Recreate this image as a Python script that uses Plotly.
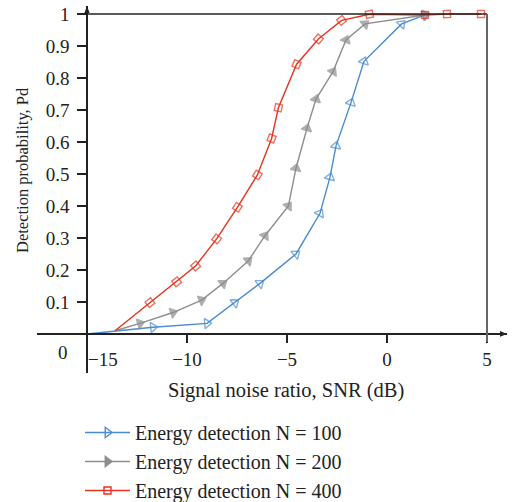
import plotly.graph_objects as go

W, H = 514, 502

# SNR (dB) / detection probability
snr_100 = [-15, -11.7, -9.0, -7.6, -6.35, -4.55, -3.35, -2.85, -2.55, -1.8, -1.15, 0.73, 1.9]
pd_100 = [0, 0.021, 0.033, 0.098, 0.158, 0.25, 0.377, 0.49, 0.588, 0.723, 0.852, 0.969, 0.997]

snr_200 = [-13.6, -12.35, -10.7, -9.27, -8.2, -6.93, -6.1, -4.93, -4.55, -4.0, -3.55, -2.7, -2.05, -1.1, 1.9]
pd_200 = [0.01, 0.033, 0.067, 0.106, 0.158, 0.229, 0.307, 0.40, 0.518, 0.643, 0.734, 0.82, 0.919, 0.969, 0.997]

snr_400 = [-13.6, -11.85, -10.52, -9.57, -8.52, -7.48, -6.48, -5.77, -5.43, -4.52, -3.43, -2.27, -0.88, 1.9, 3.0, 4.7]
pd_400 = [0.01, 0.098, 0.163, 0.2125, 0.297, 0.396, 0.497, 0.611, 0.707, 0.843, 0.922, 0.98, 0.999, 0.997, 1.0, 1.0]

series_names = ["Energy detection N = 100", "Energy detection N = 200", "Energy detection N = 400"]
x_ticks = [-10, -5, 0, 5]
y_ticks = [0.1, 0.2, 0.3, 0.4, 0.5, 0.6, 0.7, 0.8, 0.9, 1.0]
y_ticktext = ["0.1", "0.2", "0.3", "0.4", "0.5", "0.6", "0.7", "0.8", "0.9", "1"]

FONT = "Liberation Serif"
BLUE = "#4a8bd0"
GRAY = "#8e8e8e"
RED = "#e8321f"
AXIS = "#222222"
TEXT = "#222222"


def px(x):
    return x / W


def py(y):
    return 1 - y / H


def sizes(n, s):
    # first point is the curve origin, drawn without a marker
    return [0] + [s] * (n - 1)


def label(text, x, y, size, **kw):
    return dict(text=text, xref="paper", yref="paper", x=px(x), y=py(y),
                xanchor="center", yanchor="middle", showarrow=False,
                font=dict(family=FONT, size=size, color=TEXT), **kw)


styles = [
    (snr_100, pd_100, BLUE, "triangle-up-open", "triangle-right-open", 9),
    (snr_200, pd_200, GRAY, "triangle-up", "triangle-right", 9),
    (snr_400, pd_400, RED, "square-open", "square-open", 7),
]

fig = go.Figure()
for (xs, ys, color, sym, leg_sym, size), name in zip(styles, series_names):
    fig.add_trace(go.Scatter(
        x=xs, y=ys, mode="lines+markers", showlegend=False,
        line=dict(color=color, width=1.4),
        marker=dict(symbol=sym, size=sizes(len(xs), size), angleref="previous",
                    line=dict(color=color, width=1.4), color=color),
    ))
for (xs, ys, color, sym, leg_sym, size), name in zip(styles, series_names):
    fig.add_trace(go.Scatter(
        x=[None], y=[None], mode="lines+markers", name=name,
        line=dict(color=color, width=1.4),
        marker=dict(symbol=leg_sym, size=size, color=color, line=dict(color=color, width=1.4)),
    ))

fig.update_layout(
    width=W, height=H,
    margin=dict(l=0, r=0, t=0, b=0, autoexpand=False),
    paper_bgcolor="white", plot_bgcolor="white",
    font=dict(family=FONT, size=19, color=TEXT),
    xaxis=dict(
        range=[-17.5, 6.0], domain=[px(37), px(507)],
        anchor="free", position=py(334), automargin=False,
        showgrid=False, zeroline=False,
        showline=True, linecolor=AXIS, linewidth=1.5,
        tickvals=x_ticks, ticks="outside", ticklen=8, tickcolor=AXIS, tickwidth=1.5,
        ticklabelstandoff=0, tickfont=dict(family=FONT, size=19, color=TEXT),
    ),
    yaxis=dict(
        range=[-0.122, 1.025], domain=[py(373), py(6)],
        anchor="free", position=px(87), automargin=False,
        showgrid=False, zeroline=False,
        showline=True, linecolor=AXIS, linewidth=1.5,
        tickvals=y_ticks, ticktext=y_ticktext,
        ticks="outside", ticklen=9, tickcolor=AXIS, tickwidth=1.5,
        ticklabelstandoff=4, tickfont=dict(family=FONT, size=19, color=TEXT),
    ),
    legend=dict(
        x=px(80), y=py(413), xanchor="left", yanchor="top",
        bgcolor="rgba(0,0,0,0)", font=dict(family=FONT, size=20, color=TEXT),
        tracegroupgap=0, itemwidth=45,
    ),
    shapes=[
        dict(type="line", xref="x", yref="y", x0=-15, y0=1, x1=5, y1=1,
             line=dict(color=AXIS, width=1.5)),
        dict(type="line", xref="x", yref="y", x0=5, y0=-0.025, x1=5, y1=1,
             line=dict(color="#666666", width=2)),
        dict(type="path", xref="x", yref="y", path="M 6.0,0 L 5.65,0.009 L 5.65,-0.009 Z",
             fillcolor=AXIS, line=dict(width=0)),
        dict(type="path", xref="x", yref="y", path="M -15,1.025 L -15.13,1.003 L -14.87,1.003 Z",
             fillcolor=AXIS, line=dict(width=0)),
    ],
    annotations=[
        label("0", 63, 352, 19),
        label("\u221215", 103, 359, 19),
        label("Signal noise ratio, SNR (dB)", 286, 390, 20.5),
        label("Detection probability, Pd", 23, 170, 16.5, textangle=-90),
    ],
)

fig.write_html("out.html", config={"displayModeBar": False},
               post_script="document.body.style.margin='0';")
